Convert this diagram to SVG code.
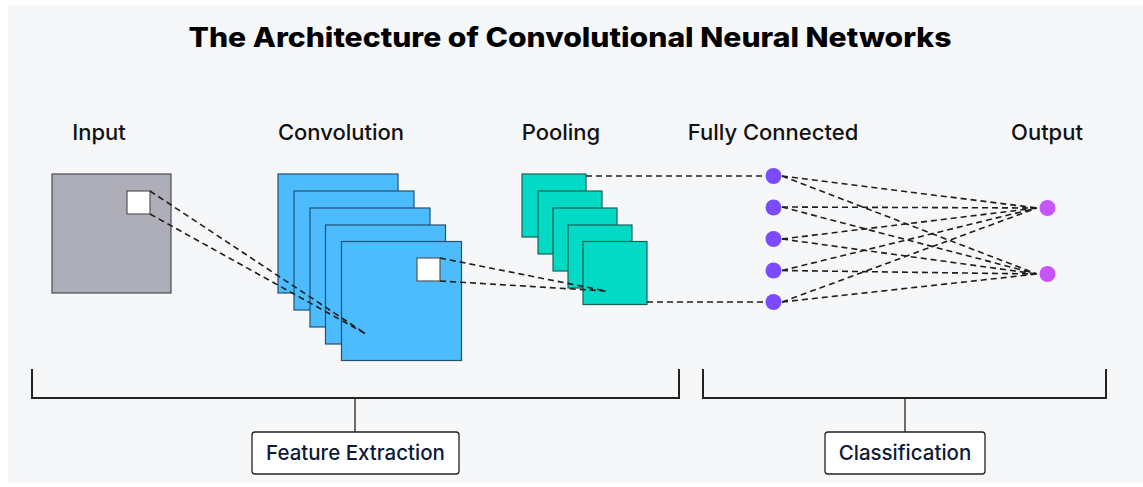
<svg xmlns="http://www.w3.org/2000/svg" width="1143" height="487" viewBox="0 0 1143 487">
  <style>
    .label { font-family: Inter, "Liberation Sans", sans-serif; font-size: 22px; font-weight: 500; fill: #111111; text-anchor: middle; }
    .title { font-family: Inter, "Liberation Sans", sans-serif; font-size: 27px; font-weight: 800; fill: #000000; text-anchor: middle; }
    .boxtext { font-family: Inter, "Liberation Sans", sans-serif; font-size: 20.5px; font-weight: 500; fill: #0f1a35; text-anchor: middle; }
    .input { fill: #aeaeb9; stroke: #4a4a52; stroke-width: 1.2; }
    .conv { fill: #4cbcff; stroke: #24506e; stroke-width: 1.2; }
    .pool { fill: #02dac6; stroke: #1d5f58; stroke-width: 1.2; }
    .window { fill: #ffffff; stroke: #555555; stroke-width: 1.2; }
    .hidden { fill: #7b4bff; }
    .out { fill: #c855fb; }
    .dash { fill: none; stroke: #1e1e1e; stroke-width: 1.6; stroke-dasharray: 6 4; }
    .bracket { fill: none; stroke: #222222; stroke-width: 2; }
    .stem { fill: none; stroke: #222222; stroke-width: 1.3; }
    .box { fill: #ffffff; stroke: #222222; stroke-width: 1.3; }
  </style>

  <!-- panel background -->
  <rect x="0" y="0" width="1143" height="487" fill="#ffffff"/>
  <rect x="8" y="5" width="1135" height="478" fill="#f6f7f9"/>

  <text class="title" x="570" y="47" textLength="763" lengthAdjust="spacingAndGlyphs">The Architecture of Convolutional Neural Networks</text>

  <!-- column labels -->
  <text class="label" x="99" y="140">Input</text>
  <text class="label" x="341" y="140">Convolution</text>
  <text class="label" x="561" y="140">Pooling</text>
  <text class="label" x="773" y="140">Fully Connected</text>
  <text class="label" x="1047" y="140">Output</text>

  <!-- input image -->
  <g id="input">
    <rect class="input" x="52" y="174" width="119" height="119"/>
    <rect class="window" x="127" y="191" width="23" height="23"/>
  </g>

  <!-- convolution feature maps -->
  <g id="convolution">
    <rect class="conv" x="278" y="174" width="120" height="119"/>
    <rect class="conv" x="294" y="191" width="120" height="119"/>
    <rect class="conv" x="310" y="208" width="120" height="119"/>
    <rect class="conv" x="325.5" y="225" width="120" height="119"/>
    <rect class="conv" x="341.5" y="241.5" width="120" height="119"/>
    <rect class="window" x="417" y="258" width="23" height="23"/>
  </g>

  <!-- pooled maps -->
  <g id="pooling">
    <rect class="pool" x="522" y="174" width="64" height="63"/>
    <rect class="pool" x="538" y="191" width="64" height="63"/>
    <rect class="pool" x="553" y="208" width="64" height="63"/>
    <rect class="pool" x="568" y="225" width="64" height="63"/>
    <rect class="pool" x="583" y="241.5" width="64" height="63"/>
  </g>

  <!-- connectors -->
  <g id="connectors">
    <path class="dash" d="M150 191 L366 334 M150 214 L366 334"/>
    <path class="dash" d="M440 258 L606 291 M440 281 L606 291"/>
    <path class="dash" d="M586 176 L766 176 M647 302 L766 302"/>
    <path class="dash" d="M782 176 L1037 208 M782 207 L1037 208 M782 239 L1037 208 M782 270.5 L1037 208 M782 302 L1037 208"/>
    <path class="dash" d="M782 176 L1037 274 M782 207 L1037 274 M782 239 L1037 274 M782 270.5 L1037 274 M782 302 L1037 274"/>
  </g>

  <!-- fully connected layer -->
  <g id="fully-connected">
    <circle class="hidden" cx="773.5" cy="176" r="8"/>
    <circle class="hidden" cx="773.5" cy="207.5" r="8"/>
    <circle class="hidden" cx="773.5" cy="239" r="8"/>
    <circle class="hidden" cx="773.5" cy="270.5" r="8"/>
    <circle class="hidden" cx="773.5" cy="302" r="8"/>
  </g>

  <!-- output layer -->
  <g id="output">
    <circle class="out" cx="1047.5" cy="208" r="8"/>
    <circle class="out" cx="1047.5" cy="274" r="8"/>
  </g>

  <!-- stage brackets -->
  <g id="feature-extraction">
    <path class="bracket" d="M32 369 V398 H679 V369"/>
    <path class="stem" d="M355 398 V432"/>
    <rect class="box" x="252" y="432" width="207" height="42" rx="3"/>
    <text class="boxtext" x="355.5" y="460">Feature Extraction</text>
  </g>

  <g id="classification">
    <path class="bracket" d="M703 369 V398 H1106 V369"/>
    <path class="stem" d="M905 398 V432"/>
    <rect class="box" x="825" y="432" width="160" height="42" rx="3"/>
    <text class="boxtext" x="905" y="460">Classification</text>
  </g>
</svg>
